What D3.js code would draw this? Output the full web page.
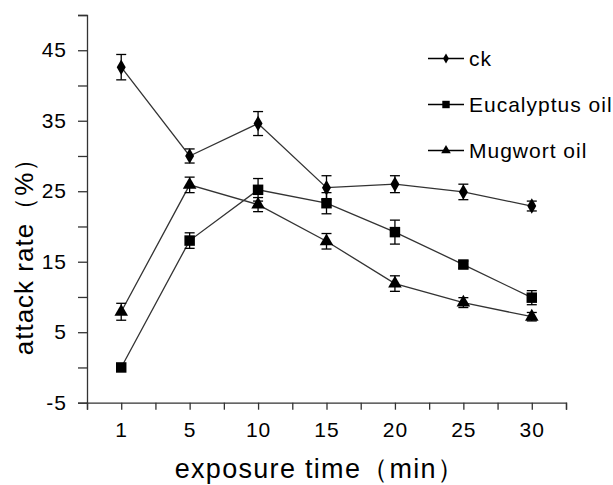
<!DOCTYPE html>
<html>
<head>
<meta charset="utf-8">
<script src="https://cdn.jsdelivr.net/npm/d3@7"></script>
<style>
  body { margin: 0; background: #fff; }
  text { font-family: "Liberation Sans", Arial, sans-serif; fill: #000; }
</style>
</head>
<body>
<script>
//Categories (exposure time, min)
var times = ["1", "5", "10", "15", "20", "25", "30"];

//Series values (attack rate %) and error bars
var ck = [42.6, 30.0, 34.6, 25.5, 26.0, 24.9, 22.9];
var ckErr = [1.8, 1.0, 1.7, 1.7, 1.2, 1.1, 0.7];
var euc = [0.0, 18.0, 25.2, 23.3, 19.2, 14.6, 9.9];
var eucErr = [0, 1.1, 1.6, 1.5, 1.7, 0.5, 1.0];
var mug = [7.9, 25.9, 23.1, 17.9, 11.9, 9.2, 7.2];
var mugErr = [1.2, 1.1, 1.0, 1.1, 1.1, 0.7, 0.6];

//Y axis tick labels
var yLabels = [-5, 5, 15, 25, 35, 45];

var series = [
	{ name: "ck", values: ck, err: ckErr, symbol: d3.symbolDiamond, size: 70, legendSize: 30 },
	{ name: "Eucalyptus oil", values: euc, err: eucErr, symbol: d3.symbolSquare, size: 110, legendSize: 55 },
	{ name: "Mugwort oil", values: mug, err: mugErr, symbol: d3.symbolTriangle, size: 80, legendSize: 40 }
];

//Width and height
var w = 613;
var h = 485;

var svg = d3.select("body")
			.append("svg")
			.attr("width", w)
			.attr("height", h);

//Scales: x runs over category slots, each point sits in the middle of its slot
var x = d3.scaleLinear()
			.domain([0, times.length])
			.range([87, 566]);

var y = d3.scaleLinear()
			.domain([-5, 50])
			.range([402.7, 15]);

//Y axis
var yAxis = d3.axisLeft(y)
			.tickValues(d3.range(-5, 51, 5))
			.tickSize(9)
			.tickPadding(11)
			.tickFormat(function(d) { return yLabels.indexOf(d) >= 0 ? d : ""; });

var gy = svg.append("g")
			.attr("transform", "translate(87,0)")
			.call(yAxis);

//X axis
var xAxis = d3.axisBottom(x)
			.tickValues(d3.range(0, times.length + 0.5, 0.5))
			.tickSize(7)
			.tickPadding(12)
			.tickFormat(function(d) { return d % 1 === 0.5 ? times[Math.floor(d)] : ""; });

var gx = svg.append("g")
			.attr("transform", "translate(0,402.7)")
			.call(xAxis);

[gx, gy].forEach(function(g) {
	g.select(".domain").attr("stroke", "#333").attr("stroke-width", 1.3);
	g.selectAll(".tick line").attr("stroke", "#333").attr("stroke-width", 1.3);
	g.selectAll(".tick text")
		.style("font-family", "'Liberation Sans', Arial, sans-serif")
		.style("font-size", "21px")
		.style("letter-spacing", "1px")
		.attr("fill", "#000");
});

//Line generator
var line = d3.line()
			.x(function(d, i) { return x(i + 0.5); })
			.y(function(d) { return y(d); });

series.forEach(function(s) {
	var g = svg.append("g");

	g.append("path")
		.datum(s.values)
		.attr("d", line)
		.attr("fill", "none")
		.attr("stroke", "#333")
		.attr("stroke-width", 1.3);

	//Error bars
	var eb = g.selectAll(".err")
		.data(s.values.map(function(v, i) { return { v: v, e: s.err[i], i: i }; })
				.filter(function(d) { return d.e > 0; }))
		.enter()
		.append("g")
		.attr("stroke", "#000")
		.attr("stroke-width", 1.3);

	eb.append("line")
		.attr("x1", function(d) { return x(d.i + 0.5); })
		.attr("x2", function(d) { return x(d.i + 0.5); })
		.attr("y1", function(d) { return y(d.v + d.e); })
		.attr("y2", function(d) { return y(d.v - d.e); });

	[1, -1].forEach(function(sign) {
		eb.append("line")
			.attr("x1", function(d) { return x(d.i + 0.5) - 5; })
			.attr("x2", function(d) { return x(d.i + 0.5) + 5; })
			.attr("y1", function(d) { return y(d.v + sign * d.e); })
			.attr("y2", function(d) { return y(d.v + sign * d.e); });
	});

	//Markers
	g.selectAll(".pt")
		.data(s.values)
		.enter()
		.append("path")
		.attr("d", d3.symbol().type(s.symbol).size(s.size))
		.attr("transform", function(d, i) { return "translate(" + x(i + 0.5) + "," + y(d) + ")"; })
		.attr("fill", "#000");
});

//Legend
var legend = svg.selectAll(".legend")
			.data(series)
			.enter()
			.append("g")
			.attr("transform", function(d, i) { return "translate(428," + (58.5 + i * 46) + ")"; });

legend.append("line")
	.attr("x1", 0)
	.attr("x2", 36)
	.attr("stroke", "#000")
	.attr("stroke-width", 1.3);

legend.append("path")
	.attr("d", function(d) { return d3.symbol().type(d.symbol).size(d.legendSize)(); })
	.attr("transform", "translate(18,0)")
	.attr("fill", "#000");

legend.append("text")
	.attr("x", 41)
	.attr("y", 7.5)
	.style("font-size", "21px")
	.style("letter-spacing", "1px")
	.text(function(d) { return d.name; });

//Axis titles
svg.append("text")
	.attr("x", 320)
	.attr("y", 478)
	.attr("text-anchor", "middle")
	.style("font-size", "27px")
	.style("letter-spacing", "1.3px")
	.text("exposure time（min）");

svg.append("text")
	.attr("transform", "translate(33,250) rotate(-90)")
	.attr("text-anchor", "middle")
	.style("font-size", "26px")
	.style("letter-spacing", "1px")
	.text("attack rate（%）");
</script>
</body>
</html>
